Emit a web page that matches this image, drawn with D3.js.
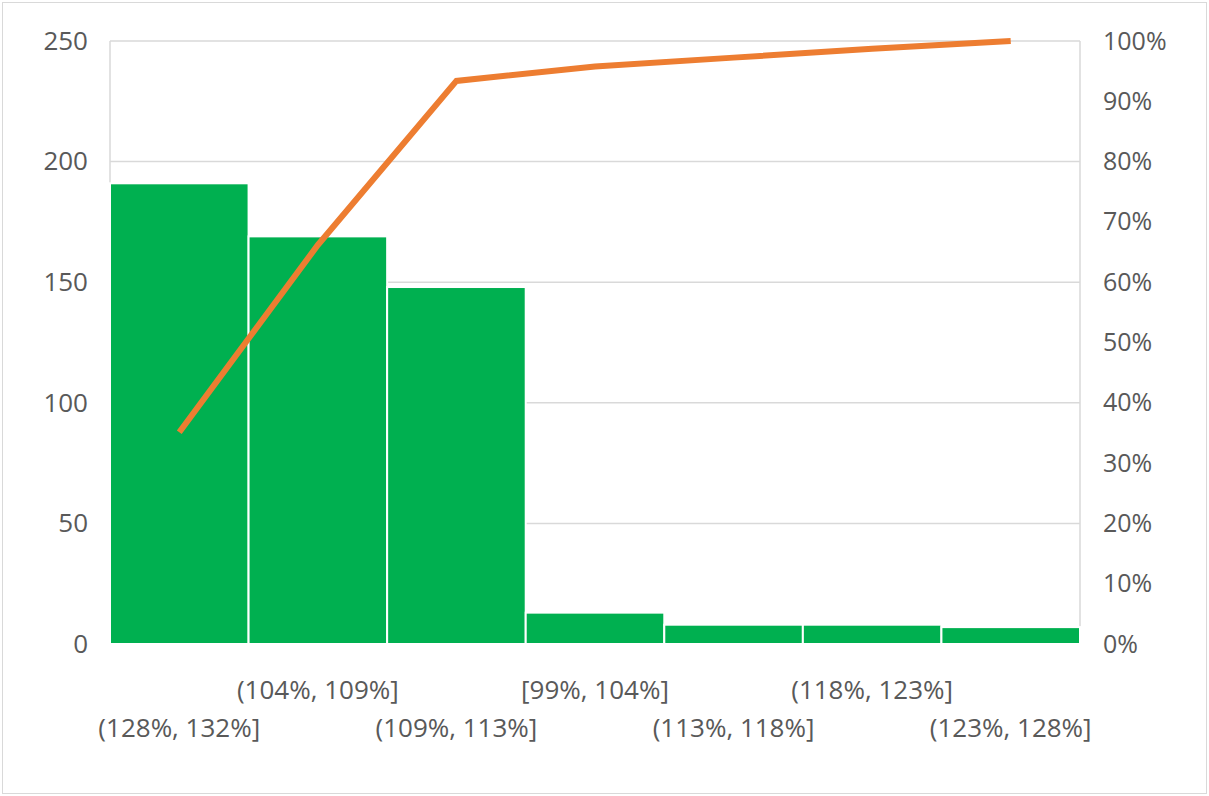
<!DOCTYPE html>
<html><head><meta charset="utf-8">
<script src="https://cdn.jsdelivr.net/npm/d3@7"></script>
<style>
html,body{margin:0;padding:0;background:#fff;}
svg{display:block;}
text{font-family:"Open Sans","Noto Sans",sans-serif;}
</style></head>
<body>
<svg id="c" width="1209" height="796"></svg>
<script>
const categories = ["(128%, 132%]","(104%, 109%]","(109%, 113%]","[99%, 104%]","(113%, 118%]","(118%, 123%]","(123%, 128%]"];
const counts = [191, 169, 148, 13, 8, 8, 7];
const leftTicks = [0, 50, 100, 150, 200, 250];
const rightTicks = [0, 0.1, 0.2, 0.3, 0.4, 0.5, 0.6, 0.7, 0.8, 0.9, 1.0];

const total = d3.sum(counts);
let run = 0;
const cumulative = counts.map(v => (run += v) / total);

const svg = d3.select("#c");
const W = 1209, H = 796;
const m = {left:110, right:1080, top:41, bottom:644};

svg.append("rect").attr("x",2.5).attr("y",2.5).attr("width",W-5).attr("height",H-5)
  .attr("fill","#fff").attr("stroke","#d9d9d9").attr("stroke-width",1);

const x = d3.scaleBand().domain(categories).range([m.left, m.right]).padding(0);
const y = d3.scaleLinear().domain([0,250]).range([m.bottom, m.top]);
const y2 = d3.scaleLinear().domain([0,1]).range([m.bottom, m.top]);

// gridlines
svg.append("g").selectAll("line").data(leftTicks).join("line")
  .attr("x1", m.left).attr("x2", m.right)
  .attr("y1", d => y(d)).attr("y2", d => y(d))
  .attr("stroke", "#d9d9d9").attr("stroke-width", 1.5);
// vertical axis lines
svg.append("line").attr("x1",m.left).attr("x2",m.left).attr("y1",m.top).attr("y2",m.bottom)
  .attr("stroke","#d9d9d9").attr("stroke-width",1.5);
svg.append("line").attr("x1",m.right).attr("x2",m.right).attr("y1",m.top).attr("y2",m.bottom)
  .attr("stroke","#d9d9d9").attr("stroke-width",1.5);

// bars
svg.append("g").selectAll("rect").data(counts).join("rect")
  .attr("x", (d,i) => x(categories[i]))
  .attr("y", d => y(d))
  .attr("width", x.bandwidth())
  .attr("height", d => y(0) - y(d))
  .attr("fill", "#00b050")
  .attr("stroke", "#ffffff").attr("stroke-width", 2);

// cumulative line
const line = d3.line()
  .x((d,i) => x(categories[i]) + x.bandwidth()/2)
  .y(d => y2(d));
svg.append("path").datum(cumulative)
  .attr("d", line).attr("fill","none")
  .attr("stroke","#ed7d31").attr("stroke-width",6)
  .attr("stroke-linejoin","miter");

// left axis labels
const leftAxis = d3.axisLeft(y).tickValues(leftTicks).tickSize(0).tickPadding(22);
const gl = svg.append("g").attr("transform",`translate(${m.left},0)`).call(leftAxis);
gl.select(".domain").remove();
gl.selectAll("text").attr("fill","#595959").style("font-size","26px")
  .style("font-family",'"Open Sans","Noto Sans",sans-serif');

// right axis labels
const rightAxis = d3.axisRight(y2).tickValues(rightTicks).tickSize(0).tickPadding(23)
  .tickFormat(d3.format(".0%"));
const gr = svg.append("g").attr("transform",`translate(${m.right},0)`).call(rightAxis);
gr.select(".domain").remove();
gr.selectAll("text").attr("fill","#595959").style("font-size","25px")
  .style("font-family",'"Open Sans","Noto Sans",sans-serif');

// x labels staggered
svg.append("g").selectAll("text").data(categories).join("text")
  .attr("x", d => x(d) + x.bandwidth()/2)
  .attr("y", (d,i) => i % 2 === 1 ? 699 : 737)
  .attr("text-anchor","middle")
  .attr("fill","#595959")
  .style("font-size","26px")
  .text(d => d);
</script>
</body></html>
